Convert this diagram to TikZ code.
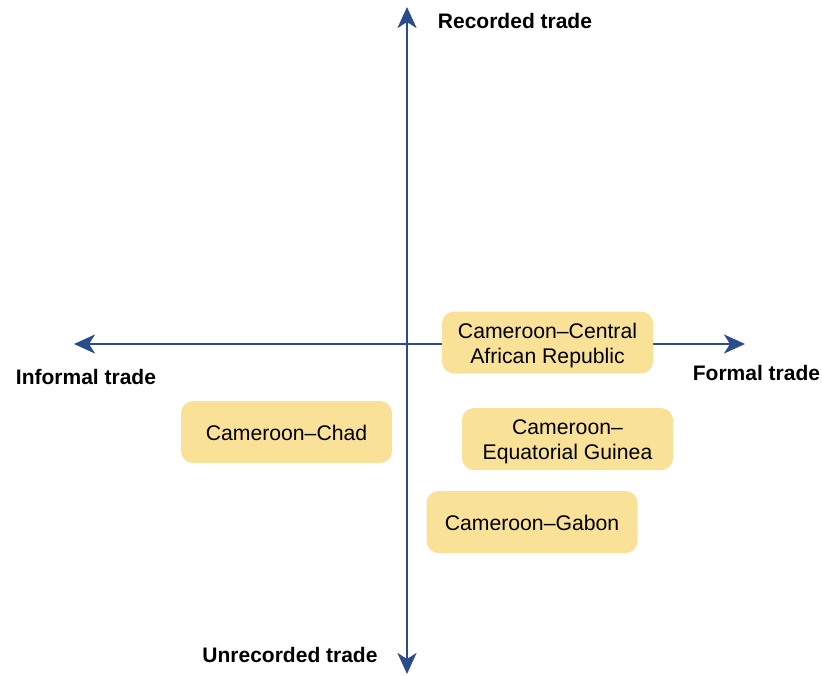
\documentclass[tikz,border=0pt]{standalone}
\usepackage{fontspec}
\setmainfont{Liberation Sans}
\usetikzlibrary{arrows.meta}
\definecolor{axisblue}{HTML}{2A4B8D}
\definecolor{boxyellow}{HTML}{F9E197}
\newcommand{\boxtext}[1]{\raisebox{-3pt}[\height][\depth]{\begin{tabular}{@{}c@{}}#1\end{tabular}}}
\begin{document}
\begin{tikzpicture}[x=1pt,y=-1pt,
  axis/.style={draw=axisblue,line width=2.7pt,-{Stealth[length=21pt,width=19pt,inset=6pt]}},
  country/.style={fill=boxyellow,rounded corners=12pt,minimum width=211pt,minimum height=62pt,
    inner sep=0pt,align=center,font=\fontsize{21.2}{25}\selectfont},
  axislabel/.style={font=\fontsize{21}{24}\selectfont\bfseries,inner sep=0pt}]
\useasboundingbox (0,0) rectangle (822,675);
\coordinate (origin) at (407,344);
\coordinate (top) at (407,7);
\coordinate (bottom) at (407,674);
\coordinate (left) at (74,344);
\coordinate (right) at (745,344);
\draw[axis] (origin) -- (top);
\draw[axis] (origin) -- (bottom);
\draw[axis] (origin) -- (left);
\draw[axis] (origin) -- (right);
\node[country] (car) at (547.5,342.5) {\boxtext{Cameroon–Central\\African Republic}};
\node[country] (chad) at (286.5,432) {\boxtext{Cameroon–Chad}};
\node[country] (eqg) at (567.5,439) {\boxtext{Cameroon–\\Equatorial Guinea}};
\node[country] (gabon) at (532,522) {\boxtext{Cameroon–Gabon}};
\node[axislabel] (rec) at (515,21) {Recorded trade};
\node[axislabel] (inf) at (86,377) {Informal trade};
\node[axislabel] (form) at (756.5,373) {Formal trade};
\node[axislabel] (unrec) at (290,655) {Unrecorded trade};
\end{tikzpicture}
\end{document}
